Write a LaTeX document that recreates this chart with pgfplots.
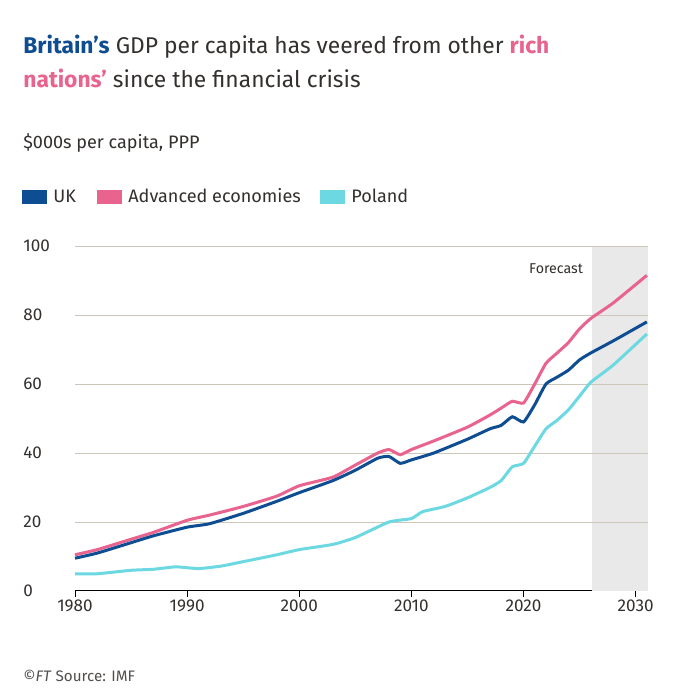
\documentclass[border=0pt]{standalone}
\usepackage{pgfplots}
\pgfplotsset{compat=1.18}
\usepackage{fontspec}
\setmainfont{Fira Sans}[Scale=0.95]
\definecolor{uk}{HTML}{0F4D92}
\definecolor{adv}{HTML}{E8638E}
\definecolor{pol}{HTML}{6CD9E2}
\definecolor{gridc}{HTML}{CEC6B9}
\definecolor{txt}{HTML}{33302E}
\definecolor{fc}{HTML}{E9E9E9}
\begin{document}
\begin{tikzpicture}
\begin{scope}[x=1pt,y=1pt]
\path[fill=white] (0,0) rectangle (700,700);
\node[anchor=base west,text=txt,font=\fontsize{24}{28}\selectfont,align=left] at (20,646) {\textcolor{uk}{\textbf{Britain's}} GDP per capita has veered from other \textcolor{adv}{\textbf{rich}}};
\node[anchor=base west,text=txt,font=\fontsize{24}{28}\selectfont] at (20,612) {\textcolor{adv}{\textbf{nations'}} since the financial crisis};
\node[anchor=base west,text=txt,font=\fontsize{19}{22}\selectfont] at (20,551) {\$000s per capita, PPP};
\begin{scope}[font=\fontsize{19}{22}\selectfont,text=txt]
\fill[uk] (22,496) rectangle (47,510); \node[anchor=base west] at (50,497) {UK};
\fill[adv] (97,496) rectangle (122,510); \node[anchor=base west] at (125,497) {Advanced economies};
\fill[pol] (320,496) rectangle (345,510); \node[anchor=base west] at (348,497) {Poland};
\end{scope}
\node[anchor=base west,text=txt!85,font=\fontsize{16}{18}\selectfont] at (20,18) {©\textit{FT} Source: IMF};
\end{scope}
\begin{axis}[at={(75pt,109pt)},anchor=south west,width=573pt,height=345pt,scale only axis,
 xmin=1980,xmax=2031.1,ymin=0,ymax=100,
 axis x line*=bottom, axis y line=none,
 axis line style={black,line width=1pt},
 xtick={1980,1990,2000,2010,2020,2030},
 x tick label style={/pgf/number format/1000 sep={},/pgf/number format/assume math mode=true,font=\fontsize{18}{20}\selectfont,text=txt},
 xtick style={black,line width=0.8pt}, major tick length=6pt, tick align=outside,
 ytick=\empty, xmajorgrids=false, ymajorgrids=false,
 clip=false]
\fill[fc] (axis cs:2026.1,0) rectangle (axis cs:2031.1,100);
\draw[gridc,line width=0.8pt] (axis cs:1980,20) -- (axis cs:2031.1,20);
\draw[gridc,line width=0.8pt] (axis cs:1980,40) -- (axis cs:2031.1,40);
\draw[gridc,line width=0.8pt] (axis cs:1980,60) -- (axis cs:2031.1,60);
\draw[gridc,line width=0.8pt] (axis cs:1980,80) -- (axis cs:2031.1,80);
\draw[gridc,line width=0.8pt] (axis cs:1980,100) -- (axis cs:2031.1,100);
\begin{scope}[font=\fontsize{18}{20}\selectfont]
\node[anchor=west,text=txt,xshift=-55pt] at (axis cs:1980,0) {0};
\node[anchor=west,text=txt,xshift=-55pt] at (axis cs:1980,20) {20};
\node[anchor=west,text=txt,xshift=-55pt] at (axis cs:1980,40) {40};
\node[anchor=west,text=txt,xshift=-55pt] at (axis cs:1980,60) {60};
\node[anchor=west,text=txt,xshift=-55pt] at (axis cs:1980,80) {80};
\node[anchor=west,text=txt,xshift=-55pt] at (axis cs:1980,100) {100};
\end{scope}
\node[anchor=base east,text=txt,font=\fontsize{15}{18}\selectfont] at (axis cs:2025.6,92) {Forecast};
\addplot[pol,line width=3pt,smooth,tension=0.3] coordinates {(1980,5)(1982,5)(1985,6)(1987,6.3)(1989,7)(1991,6.5)(1993,7.2)(1995,8.5)(1998,10.5)(2000,12)(2003,13.5)(2005,15.5)(2008,20)(2010,21)(2011,23)(2013,24.5)(2015,27)(2017,30)(2018,32)(2019,36)(2020,37)(2021,42)(2022,47)(2023,49.5)(2024,52.5)(2025,56.5)(2026,60.5)(2028,65.5)(2031,74.5)};
\addplot[adv,line width=3pt,smooth,tension=0.3] coordinates {(1980,10.5)(1982,12)(1985,15)(1987,17)(1990,20.5)(1992,22)(1995,24.5)(1998,27.5)(2000,30.5)(2003,33)(2005,36.5)(2007,40)(2008,41)(2009,39.5)(2010,41)(2012,43.5)(2015,47.5)(2017,51)(2018,53)(2019,55)(2020,54.5)(2021,60)(2022,66)(2023,69)(2024,72)(2025,76)(2026,79)(2028,83.5)(2031,91.5)};
\addplot[uk,line width=3pt,smooth,tension=0.3] coordinates {(1980,9.5)(1982,11)(1985,14)(1987,16)(1990,18.5)(1992,19.5)(1995,22.5)(1998,26)(2000,28.5)(2003,32)(2005,35)(2007,38.5)(2008,39)(2009,37)(2010,38)(2012,40)(2015,44)(2017,47)(2018,48)(2019,50.5)(2020,49)(2021,54)(2022,60)(2023,62)(2024,64)(2025,67)(2026,69)(2028,72.5)(2031,78)};
\end{axis}
\end{tikzpicture}
\end{document}
